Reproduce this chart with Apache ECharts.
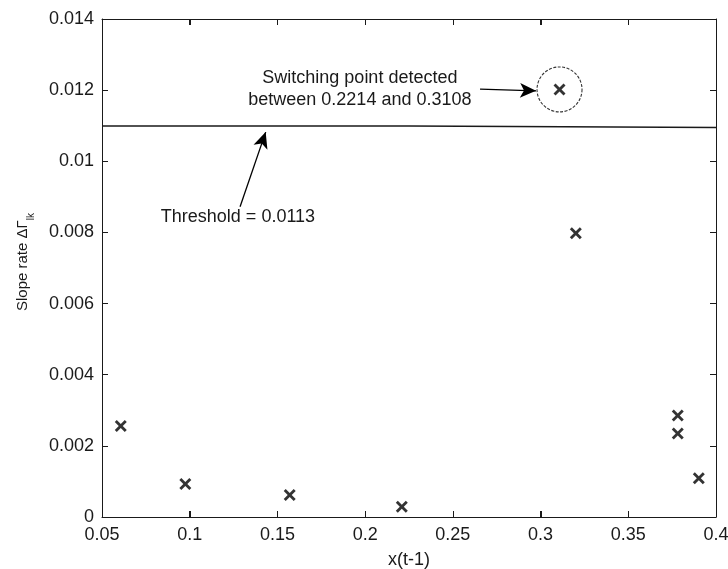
<!DOCTYPE html>
<html>
<head>
<meta charset="utf-8">
<script src="https://cdn.jsdelivr.net/npm/echarts@6/dist/echarts.min.js"></script>
<style>
html,body{margin:0;padding:0;background:#fff;}
#chart{width:728px;height:569px;}
</style>
</head>
<body>
<div id="chart"></div>
<script>
// ---- data ----
const xVals = [0.0607, 0.0975, 0.157, 0.2209, 0.3201, 0.3108, 0.3782, 0.3782, 0.3902];
const yVals = [0.00256, 0.00093, 0.00062, 0.00029, 0.00798, 0.01202, 0.00285, 0.00235, 0.00109];
const detectedPoint = [0.3108, 0.01202];
const thresholdX = [0.05, 0.225, 0.225, 0.4];
const thresholdY = [0.01099, 0.01099, 0.01095, 0.01095];
const xTickMin = 0.05, xTickMax = 0.4, xTickStep = 0.05;
const yTickMin = 0, yTickMax = 0.014, yTickStep = 0.002;
const xTitle = 'x(t-1)';
const yTitleMain = 'Slope rate ΔΓ';
const yTitleSub = 'lk';
const switchText = 'Switching point detected\nbetween 0.2214 and 0.3108';
const switchTextPos = [0.197, 0.01203];
const switchArrow = [[0.2655, 0.01203], [0.2974, 0.01198]];
const threshText = 'Threshold = 0.0113';
const threshTextPos = [0.1275, 0.00843];
const threshArrow = [[0.1287, 0.00872], [0.1433, 0.01082]];

const FONT = '"Liberation Sans", Arial, sans-serif';
const FS = 18;
const INK = '#1a1a1a';
const fmt = v => String(+v.toFixed(4));

const chart = echarts.init(document.getElementById('chart'), null, {renderer: 'canvas'});
const xSym = 'path://M0,2L2,0L6,4L10,0L12,2L8,6L12,10L10,12L6,8L2,12L0,10L4,6Z';

function axisBase() {
  return {
    type: 'value',
    gridIndex: 0,
    axisLine: {show: true, onZero: false, lineStyle: {color: INK, width: 1}},
    axisTick: {show: true, inside: true, length: 6, lineStyle: {color: INK, width: 1}},
    splitLine: {show: false}
  };
}

chart.setOption({
  animation: false,
  backgroundColor: '#fff',
  textStyle: {fontFamily: FONT},
  grid: {left: 102, right: 12, top: 19, bottom: 52, containLabel: false, outerBoundsMode: 'none'},
  xAxis: [
    Object.assign(axisBase(), {
      min: xTickMin, max: xTickMax, interval: xTickStep, position: 'bottom',
      name: xTitle, nameLocation: 'middle', nameGap: 34,
      nameTextStyle: {color: INK, fontSize: FS, fontFamily: FONT},
      axisLabel: {color: INK, fontSize: FS, fontFamily: FONT, margin: 9, formatter: fmt}
    }),
    Object.assign(axisBase(), {
      min: xTickMin, max: xTickMax, interval: xTickStep, position: 'top',
      axisLabel: {show: false}
    })
  ],
  yAxis: [
    Object.assign(axisBase(), {
      min: yTickMin, max: yTickMax, interval: yTickStep, position: 'left',
      name: '{p| }{m|' + yTitleMain + '}{s|' + yTitleSub + '}', nameLocation: 'middle', nameGap: 66,
      nameTextStyle: {
        color: INK, fontSize: 15, fontFamily: FONT,
        rich: {
          p: {fontSize: 15, width: 12},
          m: {fontSize: 15, fontFamily: FONT, color: INK, lineHeight: 26, verticalAlign: 'middle'},
          s: {fontSize: 10, fontFamily: FONT, color: INK, lineHeight: 12, verticalAlign: 'bottom'}
        }
      },
      axisLabel: {color: INK, fontSize: FS, fontFamily: FONT, margin: 8, formatter: fmt}
    }),
    Object.assign(axisBase(), {
      min: yTickMin, max: yTickMax, interval: yTickStep, position: 'right',
      axisLabel: {show: false}
    })
  ],
  series: [
    {
      type: 'line',
      data: thresholdX.map((x, i) => [x, thresholdY[i]]),
      symbol: 'none',
      lineStyle: {color: INK, width: 1.6},
      silent: true,
      z: 2
    },
    {
      type: 'scatter',
      data: xVals.map((x, i) => [x, yVals[i]]),
      symbol: xSym,
      symbolSize: 12,
      itemStyle: {color: '#000'},
      z: 3
    },
    {
      type: 'scatter',
      data: [detectedPoint],
      symbol: 'circle',
      symbolSize: 45,
      itemStyle: {color: 'rgba(0,0,0,0)', borderColor: '#000', borderWidth: 1.1, borderType: [3, 1.5]},
      z: 2,
      markLine: {
        silent: true,
        symbol: ['none', 'arrow'],
        symbolSize: [11, 16],
        label: {show: false},
        lineStyle: {color: '#000', width: 1.3, type: 'solid'},
        data: [
          [{coord: switchArrow[0]}, {coord: switchArrow[1]}],
          [{coord: threshArrow[0]}, {coord: threshArrow[1]}]
        ]
      }
    },
    {
      type: 'scatter',
      xAxisIndex: 1,
      yAxisIndex: 1,
      data: [detectedPoint],
      symbolSize: 0,
      itemStyle: {opacity: 0},
      silent: true
    }
  ]
});

function placeOverlays() {
  const p1 = chart.convertToPixel({gridIndex: 0}, switchTextPos);
  const p2 = chart.convertToPixel({gridIndex: 0}, threshTextPos);
  const graphics = [
    {type: 'text', x: p1[0], y: p1[1], z: 10,
     style: {text: switchText, font: FS + 'px ' + FONT, fill: INK, align: 'center', verticalAlign: 'middle', lineHeight: 22}},
    {type: 'text', x: p2[0], y: p2[1], z: 10,
     style: {text: threshText, font: FS + 'px ' + FONT, fill: INK, align: 'center', verticalAlign: 'middle'}}
  ];
  // inward x ticks on bottom and top edges, placed through the axis scale
  const n = Math.round((xTickMax - xTickMin) / xTickStep);
  for (let i = 1; i < n; i++) {
    const v = xTickMin + i * xTickStep;
    const b = chart.convertToPixel({gridIndex: 0}, [v, yTickMin]);
    const t = chart.convertToPixel({gridIndex: 0}, [v, yTickMax]);
    const xp = Math.round(b[0]) + 0.5;
    graphics.push({type: 'line', silent: true, z: 5,
      shape: {x1: xp, y1: b[1], x2: xp, y2: b[1] - 6}, style: {stroke: INK, lineWidth: 1}});
    graphics.push({type: 'line', silent: true, z: 5,
      shape: {x1: xp, y1: t[1], x2: xp, y2: t[1] + 6}, style: {stroke: INK, lineWidth: 1}});
  }
  chart.setOption({graphic: graphics});
}
placeOverlays();
</script>
</body>
</html>
